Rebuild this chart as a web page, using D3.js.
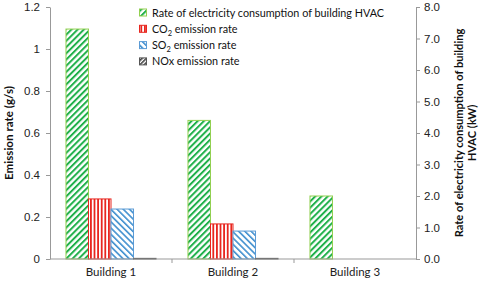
<!DOCTYPE html>
<html>
<head>
<meta charset="utf-8">
<script src="https://cdn.jsdelivr.net/npm/d3@7"></script>
<style>
  body { margin: 0; background: #fff; }
  svg { font-family: Lato, "Open Sans", sans-serif; }
  .axis text { font-size: 11.5px; fill: #222; }
  .axis path, .axis line { stroke: #999; }
  .title { font-size: 11.6px; font-weight: bold; fill: #111; }
  .title.right { font-size: 11.1px; }
  .legend text { font-size: 10.8px; fill: #111; }
</style>
</head>
<body>
<div id="chart"></div>
<script>
"use strict";

// chart values
const categories = ["Building 1", "Building 2", "Building 3"];
const hvacRate = [7.3, 4.4, 2.0];       // kW, right axis
const co2Rate = [0.286, 0.167, 0];      // g/s, left axis
const so2Rate = [0.238, 0.133, 0];
const noxRate = [0.003, 0.003, 0];
const leftTicks = [0, 0.2, 0.4, 0.6, 0.8, 1, 1.2];
const rightTicks = [0, 1, 2, 3, 4, 5, 6, 7, 8];

const width = 480, height = 282;
const margin = {top: 7, right: 64, bottom: 23, left: 50};

const svg = d3.select("#chart").append("svg")
  .attr("width", width)
  .attr("height", height);

// hatch patterns
const defs = svg.append("defs");
function hatch(id, color, angle, size, lineW) {
  const p = defs.append("pattern")
    .attr("id", id)
    .attr("patternUnits", "userSpaceOnUse")
    .attr("width", size).attr("height", size)
    .attr("patternTransform", `rotate(${angle})`);
  p.append("rect").attr("width", size).attr("height", size).attr("fill", "#fff");
  p.append("rect").attr("width", lineW).attr("height", size).attr("fill", color);
}
hatch("pGreen", "#1fb04a", 45, 4.4, 2);
hatch("pRed", "#e8261f", 0, 3.6, 1.8);
hatch("pBlue", "#3f8fcf", -45, 4.4, 1.6);
hatch("pGrey", "#333", 45, 3, 1.5);

const series = [
  {key: "hvac", name: "Rate of electricity consumption of building HVAC", values: hvacRate, axis: "right", fill: "url(#pGreen)", stroke: "#92d050"},
  {key: "co2", name: ["CO", "2", " emission rate"], values: co2Rate, axis: "left", fill: "url(#pRed)", stroke: "#e8261f"},
  {key: "so2", name: ["SO", "2", " emission rate"], values: so2Rate, axis: "left", fill: "url(#pBlue)", stroke: "#5b9bd5"},
  {key: "nox", name: "NOx emission rate", values: noxRate, axis: "left", fill: "url(#pGrey)", stroke: "#555"}
];

const x0 = d3.scaleBand()
  .domain(categories)
  .range([margin.left, width - margin.right]);

const x1 = d3.scaleBand()
  .domain(series.map(s => s.key))
  .range([0, x0.bandwidth()])
  .paddingOuter(0.71);

const yLeft = d3.scaleLinear().domain([0, 1.2]).range([height - margin.bottom, margin.top]);
const yRight = d3.scaleLinear().domain([0, 8]).range([height - margin.bottom, margin.top]);

// bars
series.forEach(s => {
  const y = s.axis === "left" ? yLeft : yRight;
  svg.append("g").selectAll("rect")
    .data(s.values.map((v, i) => ({cat: categories[i], v: v})).filter(d => d.v > 0))
    .enter().append("rect")
    .attr("x", d => x0(d.cat) + x1(s.key))
    .attr("width", x1.bandwidth())
    .attr("y", d => y(d.v))
    .attr("height", d => y(0) - y(d.v))
    .attr("fill", s.fill)
    .attr("stroke", s.stroke)
    .attr("stroke-width", 1);
});

// left axis
svg.append("g")
  .attr("class", "axis")
  .attr("transform", `translate(${margin.left},0)`)
  .call(d3.axisLeft(yLeft).tickValues(leftTicks).tickSize(4).tickSizeOuter(0).tickPadding(6).tickFormat(d3.format("")));

// right axis
svg.append("g")
  .attr("class", "axis")
  .attr("transform", `translate(${width - margin.right},0)`)
  .call(d3.axisRight(yRight).tickValues(rightTicks).tickSize(4).tickSizeOuter(0).tickPadding(4).tickFormat(d3.format(".1f")));

// bottom axis with ticks at category boundaries
const gBottom = svg.append("g")
  .attr("class", "axis")
  .attr("transform", `translate(0,${height - margin.bottom})`);
gBottom.append("line")
  .attr("x1", margin.left).attr("x2", width - margin.right)
  .attr("stroke", "#999");
gBottom.selectAll(".sep")
  .data(categories.slice(1))
  .enter().append("line")
  .attr("x1", d => x0(d)).attr("x2", d => x0(d))
  .attr("y1", 0).attr("y2", 4)
  .attr("stroke", "#999");
gBottom.selectAll(".lbl")
  .data(categories)
  .enter().append("text")
  .attr("x", d => x0(d) + x0.bandwidth() / 2)
  .attr("y", 17)
  .attr("text-anchor", "middle")
  .text(d => d);

// axis titles
svg.append("text")
  .attr("class", "title")
  .attr("text-anchor", "middle")
  .attr("transform", `translate(13,${(margin.top + height - margin.bottom) / 2})rotate(-90)`)
  .text("Emission rate (g/s)");

const rTitle = svg.append("text")
  .attr("class", "title right")
  .attr("text-anchor", "middle")
  .attr("transform", `translate(463,${(margin.top + height - margin.bottom) / 2})rotate(-90)`);
rTitle.append("tspan").attr("x", 0).attr("dy", 0).text("Rate of electricity consumption of building");
rTitle.append("tspan").attr("x", 0).attr("dy", 13).text("HVAC (kW)");

// legend
const legend = svg.append("g").attr("class", "legend");
series.forEach((s, i) => {
  const yy = 13 + i * 16.3;
  legend.append("rect")
    .attr("x", 139.5).attr("y", yy - 4)
    .attr("width", 7).attr("height", 7)
    .attr("fill", s.fill)
    .attr("stroke", s.stroke);
  const t = legend.append("text").attr("x", 152).attr("y", yy + 3.5);
  if (Array.isArray(s.name)) {
    t.append("tspan").text(s.name[0]);
    t.append("tspan").attr("font-size", "7.5px").attr("dy", 3).text(s.name[1]);
    t.append("tspan").attr("dy", -3).text(s.name[2]);
  } else {
    t.text(s.name);
  }
});
</script>
</body>
</html>
